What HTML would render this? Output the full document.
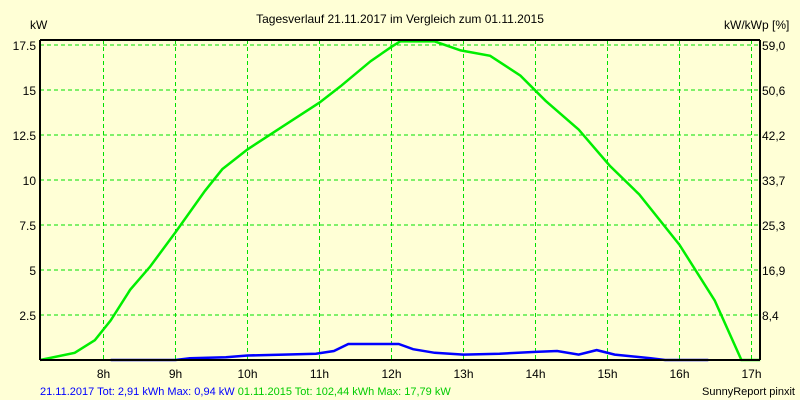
<!DOCTYPE html>
<html><head><meta charset="utf-8"><style>
body{margin:0;background:#ffffd6;}
svg{display:block;font-family:"Liberation Sans",sans-serif;}
</style></head><body>
<svg width="800" height="400">
<rect width="800" height="400" fill="#ffffd6"/>
<text x="400" y="23" font-size="12" text-anchor="middle">Tagesverlauf 21.11.2017 im Vergleich zum 01.11.2015</text>
<text x="30" y="29" font-size="12">kW</text>
<text x="724" y="29" font-size="12">kW/kWp [%]</text>
<g id="grid"></g><g id="lines"></g><g id="labels"></g>
<line x1="40" y1="40" x2="40" y2="360" stroke="#000" stroke-width="2"/>
<line x1="760" y1="40" x2="760" y2="360" stroke="#000" stroke-width="2"/>
<line x1="40" y1="40" x2="760" y2="40" stroke="#000" stroke-width="2"/>
<text x="40" y="395" font-size="11"><tspan fill="#0000ff">21.11.2017 Tot: 2,91 kWh Max: 0,94 kW </tspan><tspan fill="#00cc00">01.11.2015 Tot: 102,44 kWh Max: 17,79 kW</tspan></text>
<text x="795" y="395" font-size="11" text-anchor="end">SunnyReport pinxit</text>
</svg>
<script>
const hours=[8,9,10,11,12,13,14,15,16,17];
const yTicks=[2.5,5,7.5,10,12.5,15,17.5];
const yTickLabels=["2.5","5","7.5","10","12.5","15","17.5"];
const y2TickLabels=["8,4","16,9","25,3","33,7","42,2","50,6","59,0"];
const greenT=[7.12,7.6,7.88,8.1,8.37,8.65,9.0,9.41,9.65,10.0,10.46,11.0,11.29,11.71,12.0,12.12,12.6,12.96,13.37,13.79,14.14,14.6,15.03,15.44,16.0,16.49,16.86,17.12];
const greenV=[0,0.4,1.1,2.2,3.9,5.2,7.1,9.4,10.6,11.7,12.9,14.3,15.2,16.6,17.4,17.7,17.7,17.2,16.9,15.8,14.4,12.8,10.8,9.2,6.4,3.3,0,0];
const blueT=[8.1,9.0,9.2,9.7,10.0,10.5,10.95,11.2,11.4,12.1,12.3,12.6,13.0,13.5,14.0,14.3,14.6,14.85,15.1,15.6,15.8,16.4];
const blueV=[0,0,0.1,0.15,0.25,0.3,0.35,0.5,0.89,0.89,0.6,0.4,0.3,0.35,0.45,0.5,0.3,0.55,0.3,0.1,0,0];
const X=h=>103.5+(h-8)*72, Y=v=>360-v*18;
const NS="http://www.w3.org/2000/svg";
const g=document.getElementById('grid'),l=document.getElementById('lines'),lb=document.getElementById('labels');
function mk(tag,attrs,parent,txt){const e=document.createElementNS(NS,tag);for(const k in attrs)e.setAttribute(k,attrs[k]);if(txt!==undefined)e.textContent=txt;parent.appendChild(e);return e;}
hours.forEach(h=>{
 const e=mk('line',{x1:X(h),x2:X(h),y1:40,y2:360,stroke:'#00e000','stroke-dasharray':'4,3'},g);
 
 
 const t=mk('text',{x:X(h),y:378,'font-size':12,'text-anchor':'middle'},lb,h+'h');
 
 
});
yTicks.forEach((v,i)=>{
 const e=mk('line',{x1:40,x2:760,y1:Y(v),y2:Y(v),stroke:'#00e000','stroke-dasharray':'4,3'},g);
 
 
 const t=mk('text',{x:36,y:Y(v)+5,'font-size':12,'text-anchor':'end'},lb,yTickLabels[i]);
 
 
 const t2=mk('text',{x:762,y:Y(v)+5,'font-size':12},lb,y2TickLabels[i]);
 
 
});
const gl=mk('polyline',{points:greenT.map((t,i)=>X(t)+','+Y(greenV[i])).join(' '),fill:'none',stroke:'#00ee00','stroke-width':2.5},l);


const bl=mk('polyline',{points:blueT.map((t,i)=>X(t)+','+Y(blueV[i])).join(' '),fill:'none',stroke:'#0000ff','stroke-width':2.5},l);


mk('line',{x1:40,x2:760,y1:360,y2:360,stroke:'#000','stroke-width':2},l);
</script>
</body></html>
